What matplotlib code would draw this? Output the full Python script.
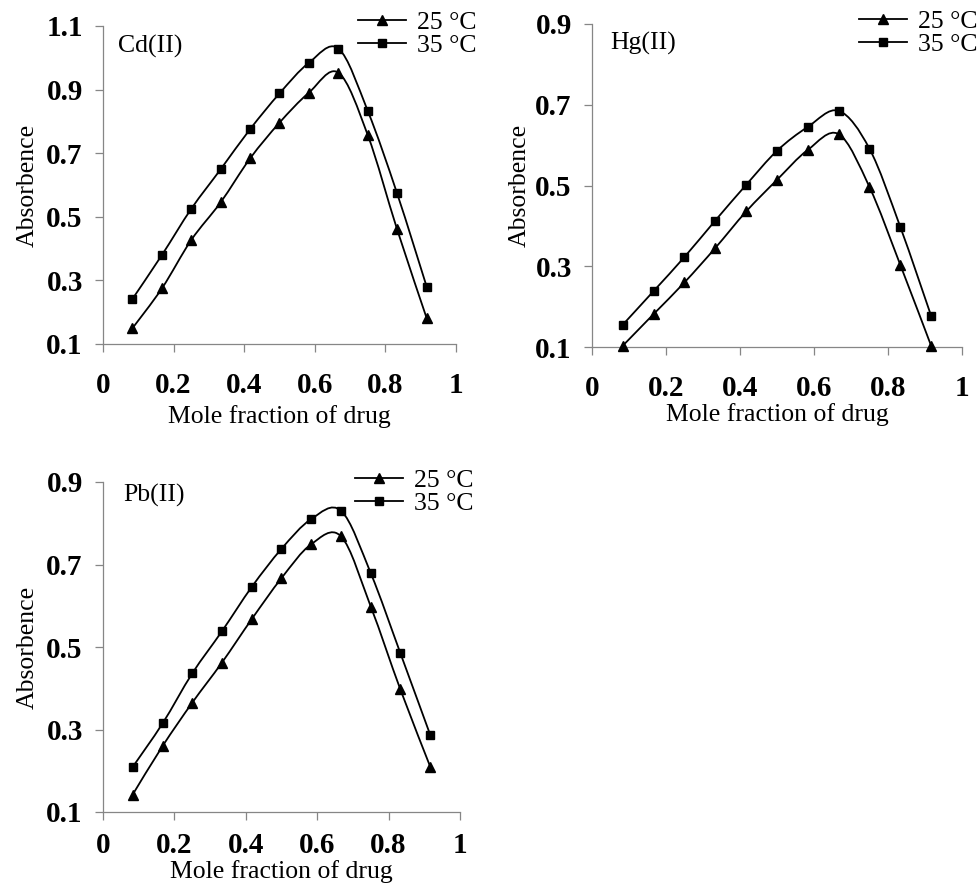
import numpy as np
import matplotlib
matplotlib.use('Agg')
import matplotlib.pyplot as plt
from matplotlib.path import Path
from matplotlib.patches import PathPatch
from matplotlib.lines import Line2D

plt.rcParams['font.family'] = ['Liberation Serif', 'DejaVu Serif']

# mole fraction of drug (same for all panels)
mole_fraction = [0.083, 0.167, 0.25, 0.333, 0.417, 0.5, 0.583, 0.667, 0.75, 0.833, 0.917]

# Cd(II)
cd_25 = [0.149, 0.275, 0.427, 0.545, 0.684, 0.796, 0.890, 0.953, 0.757, 0.461, 0.181]
cd_35 = [0.241, 0.380, 0.525, 0.649, 0.776, 0.888, 0.984, 1.029, 0.833, 0.574, 0.280]

# Hg(II)
hg_25 = [0.103, 0.182, 0.260, 0.345, 0.436, 0.514, 0.588, 0.627, 0.496, 0.304, 0.102]
hg_35 = [0.155, 0.239, 0.323, 0.413, 0.502, 0.586, 0.645, 0.685, 0.591, 0.398, 0.176]

# Pb(II)
pb_25 = [0.142, 0.260, 0.365, 0.462, 0.568, 0.667, 0.749, 0.768, 0.598, 0.397, 0.209]
pb_35 = [0.209, 0.315, 0.436, 0.538, 0.646, 0.738, 0.810, 0.830, 0.679, 0.485, 0.286]

series_labels = ['25 \u00b0C', '35 \u00b0C']
x_ticks = [0, 0.2, 0.4, 0.6, 0.8, 1]
x_ticklabels = ['0', '0.2', '0.4', '0.6', '0.8', '1']

FS = 18.5
TICK_FS = 21
GREY = '#868686'


def smooth_path(x, y):
    """ Excel style smoothed line: cubic bezier segments through the points """
    pts = np.column_stack([x, y])
    verts = [pts[0]]
    codes = [Path.MOVETO]
    n = len(pts)
    for i in range(n - 1):
        p0 = pts[i - 1] if i > 0 else pts[i]
        p1 = pts[i]
        p2 = pts[i + 1]
        p3 = pts[i + 2] if i + 2 < n else pts[i + 1]
        c1 = p1 + (p2 - p0) / 6.0
        c2 = p2 - (p3 - p1) / 6.0
        verts.extend([c1, c2, p2])
        codes.extend([Path.CURVE4] * 3)
    return Path(verts, codes)


def draw_panel(fig, rect, y25, y35, ylim, yticks, name, name_pos, xlabel_y, ylabel_x, legend_pos, xpad=15):
    ax = fig.add_axes(rect)
    for y, marker, ms in [(y25, '^', 7.5), (y35, 's', 6)]:
        ax.add_patch(PathPatch(smooth_path(mole_fraction, y), fill=False, ec='black', lw=1.3))
        ax.plot(mole_fraction, y, ls='none', marker=marker, ms=ms, color='black', clip_on=False, zorder=3)

    ax.set_xlim(0, 1)
    ax.set_ylim(*ylim)
    ax.set_xticks(x_ticks)
    ax.set_xticklabels(x_ticklabels)
    ax.set_yticks(yticks)
    ax.set_yticklabels(['{:.1f}'.format(t) for t in yticks])

    for side in ['top', 'right']:
        ax.spines[side].set_visible(False)
    for side in ['left', 'bottom']:
        ax.spines[side].set_color(GREY)
        ax.spines[side].set_linewidth(0.9)

    ax.tick_params(axis='both', direction='out', length=5.5, width=0.9, color=GREY, labelsize=TICK_FS)
    ax.tick_params(axis='x', pad=xpad)
    ax.tick_params(axis='y', pad=9)
    for lab in ax.get_xticklabels() + ax.get_yticklabels():
        lab.set_fontweight('bold')

    ax.set_xlabel('Mole fraction of drug', fontsize=FS)
    ax.set_ylabel('Absorbence', fontsize=FS)
    ax.xaxis.set_label_coords(0.5, xlabel_y)
    ax.yaxis.set_label_coords(ylabel_x, 0.5)

    ax.text(name_pos[0], name_pos[1], name, transform=ax.transAxes, fontsize=FS, va='center', ha='left')

    handles = [Line2D([], [], color='black', lw=1.3, marker='^', ms=7.5),
               Line2D([], [], color='black', lw=1.3, marker='s', ms=6)]
    ax.legend(handles, series_labels, loc='upper left', bbox_to_anchor=legend_pos,
              bbox_transform=fig.transFigure, frameon=False, fontsize=FS,
              borderpad=0, borderaxespad=0, handlelength=1.85, handletextpad=0.45,
              labelspacing=0.0)
    return ax


W, H = 978, 885
fig = plt.figure(figsize=(W / 100, H / 100), dpi=100)


def frect(left, top, right, bottom):
    return [left / W, 1 - bottom / H, (right - left) / W, (bottom - top) / H]


draw_panel(fig, frect(103, 26, 456, 344), cd_25, cd_35, (0.1, 1.1), [0.1, 0.3, 0.5, 0.7, 0.9, 1.1],
           'Cd(II)', (0.042, 0.935), -0.192, -0.181, (358 / W, 1 - 11 / H))
draw_panel(fig, frect(592, 24, 962, 347), hg_25, hg_35, (0.1, 0.9), [0.1, 0.3, 0.5, 0.7, 0.9],
           'Hg(II)', (0.049, 0.94), -0.173, -0.165, (859 / W, 1 - 10 / H))
draw_panel(fig, frect(103, 482, 460, 812), pb_25, pb_35, (0.1, 0.9), [0.1, 0.3, 0.5, 0.7, 0.9],
           'Pb(II)', (0.056, 0.96), -0.145, -0.179, (355 / W, 1 - 469 / H), xpad=9)

fig.savefig('out.png', dpi=100)
